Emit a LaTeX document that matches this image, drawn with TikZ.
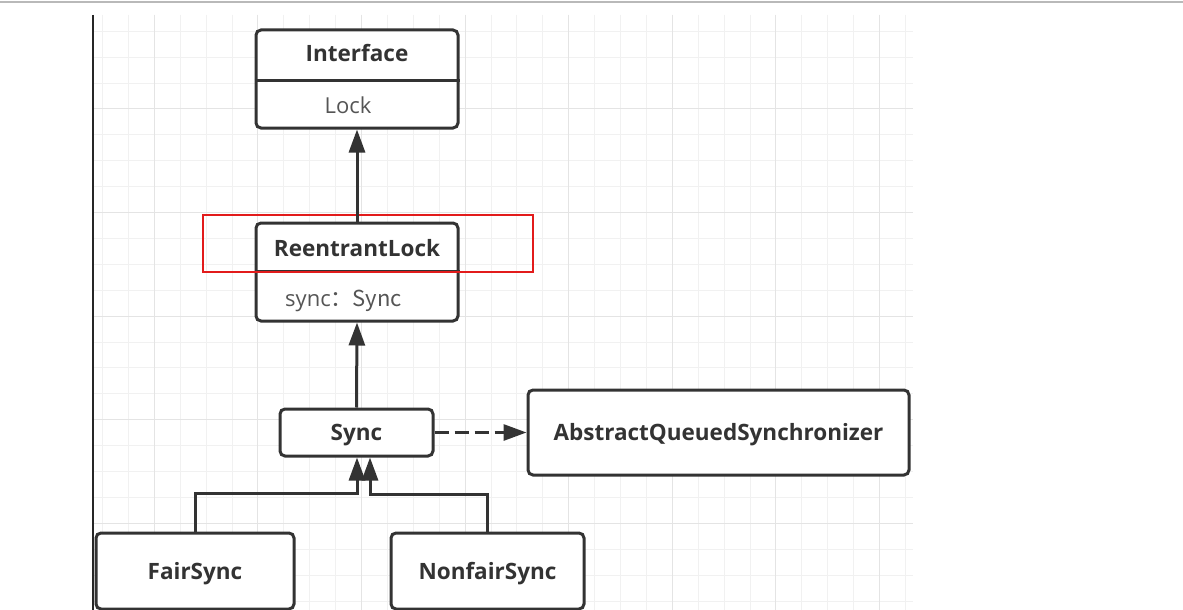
\documentclass[tikz,border=0pt]{standalone}
\usepackage{fontspec}
\setmainfont{Open Sans}
\newfontfamily\cjk{Noto Sans CJK SC}
\usetikzlibrary{arrows.meta}
\definecolor{edge}{HTML}{333333}
\definecolor{txt}{HTML}{333333}
\definecolor{txtl}{HTML}{555555}
\definecolor{gminor}{HTML}{F1F1F1}
\definecolor{gmajor}{HTML}{E4E4E4}
\definecolor{hlred}{HTML}{E21B1B}
\begin{document}
\begin{tikzpicture}[x=1pt,y=-1pt,
 box/.style={draw=edge, line width=3pt, rounded corners=5pt, fill=white, inner sep=0pt},
 title/.style={font=\fontsize{22.5}{26}\selectfont\bfseries, text=txt, inner sep=0pt, text height=16pt, text depth=0pt},
 attr/.style={font=\fontsize{22}{26}\selectfont, text=txtl, inner sep=0pt, text height=16pt, text depth=0pt},
 conn/.style={draw=edge, line width=3pt},
 tip/.style={-{Triangle[length=23pt,width=16pt]}},
 gridminor/.style={draw=gminor, line width=1pt},
 gridmajor/.style={draw=gmajor, line width=1pt},
]
\useasboundingbox (0,0) rectangle (1183,610);
\fill[white] (0,0) rectangle (1183,610);
% grid
\foreach \k in {0,...,31} \draw[gridminor] ({102.5+25.9*\k},15) -- ({102.5+25.9*\k},610);
\foreach \k in {1,...,23} \draw[gridminor] (93,{5.3+25.9*\k}) -- (913,{5.3+25.9*\k});
\foreach \k in {2,6,...,30} \draw[gridmajor] ({102.5+25.9*\k},15) -- ({102.5+25.9*\k},610);
\foreach \k in {4,8,...,20} \draw[gridmajor] (93,{5.3+25.9*\k}) -- (913,{5.3+25.9*\k});
% frame lines
\draw[gray!55, line width=2pt] (0,2) -- (1183,2);
\draw[black!85, line width=1.8pt] (93,15) -- (93,610);

% Interface
\node[box, minimum width=202pt, minimum height=98pt] (iface) at (357,79) {};
\coordinate (d1) at (0,80);
\draw[conn] (iface.west |- d1) -- (iface.east |- d1);
\node[title] (ifaceT) at (357,54) {Interface};
\node[attr] (ifaceA) at (348,105) {Lock};

% ReentrantLock
\node[box, minimum width=202pt, minimum height=98pt] (rl) at (357,272) {};
\coordinate (d2) at (0,271);
\draw[conn] (rl.west |- d2) -- (rl.east |- d2);
\node[title] (rlT) at (357,248) {ReentrantLock};
\node[attr, anchor=west] (rlA) at (285,298) {sync\cjk{：}Sync};

% highlight
\node[draw=hlred, line width=1.6pt, minimum width=330pt, minimum height=57pt, inner sep=0pt] (hl) at (368,243.5) {};

% Sync
\node[box, title, minimum width=153pt, minimum height=47pt] (sync) at (356.5,432.5) {Sync};
% AQS
\node[box, title, minimum width=381pt, minimum height=85pt] (aqs) at (718.5,432.5) {AbstractQueuedSynchronizer};
% FairSync
\node[box, title, minimum width=198pt, minimum height=76pt] (fair) at (195,571) {FairSync};
% NonfairSync
\node[box, title, minimum width=193pt, minimum height=76pt] (nonfair) at (487.5,571) {NonfairSync};

% connectors
\draw[conn, tip] (rl.north) -- (iface.south);
\draw[conn, tip] (sync.north) -- (rl.south);
\draw[conn, tip, dash pattern=on 14pt off 6pt] (sync.east) -- (aqs.west);
\coordinate (jl) at (357,493);
\coordinate (jr) at (370,494);
\draw[conn, tip] (fair.north) |- (jl) -- (jl |- sync.south);
\draw[conn, tip] (nonfair.north) |- (jr) -- (jr |- sync.south);
\end{tikzpicture}
\end{document}
